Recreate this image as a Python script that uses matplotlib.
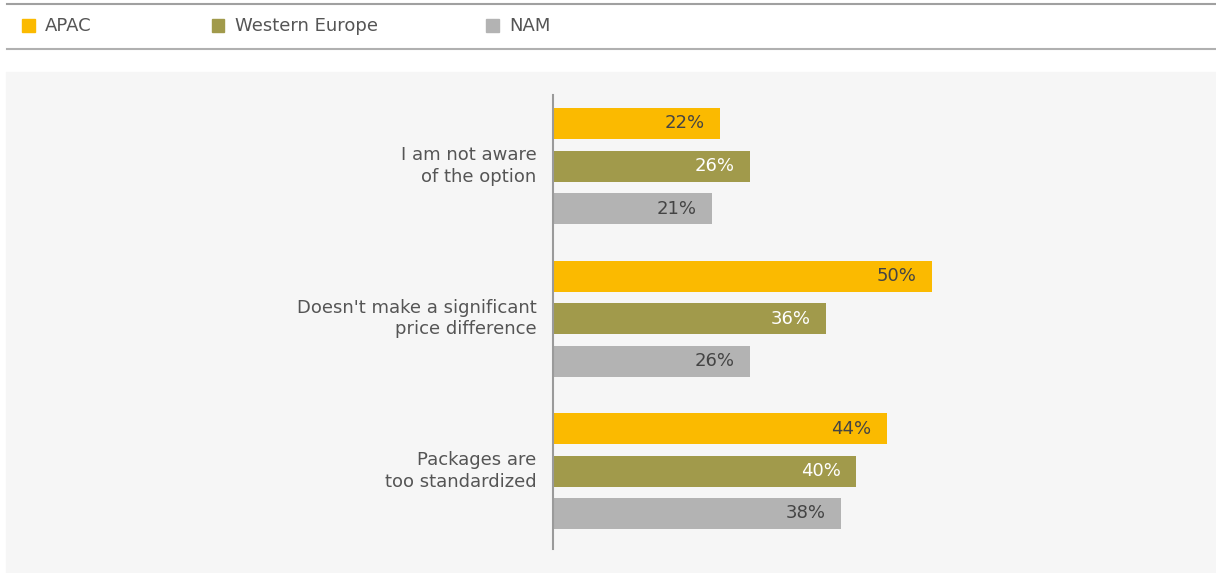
import numpy as np
import matplotlib.pyplot as plt
from matplotlib.patches import Rectangle
from matplotlib.lines import Line2D

# survey data: reasons for not choosing the option, share of respondents (%)
reasons = ["I am not aware\nof the option",
           "Doesn't make a significant\nprice difference",
           "Packages are\ntoo standardized"]
regions = ["APAC", "Western Europe", "NAM"]
apac = [22, 50, 44]
western_europe = [26, 36, 40]
nam = [21, 26, 38]

colors = ["#FBBA00", "#A19A4B", "#B3B3B3"]
label_colors = ["#444444", "#FFFFFF", "#444444"]

W, H = 1216, 573
fig = plt.figure(figsize=(W / 100, H / 100), dpi=100)
plt.rcParams["font.family"] = ["DejaVu Sans"]
FS = 13

# header rules and grey panel
fig.add_artist(Line2D([7 / W, 1], [1 - 4 / H, 1 - 4 / H], color="#A0A0A0", lw=1.5))
fig.add_artist(Line2D([7 / W, 1], [1 - 49 / H, 1 - 49 / H], color="#B0B0B0", lw=1.5))
fig.add_artist(Rectangle((6 / W, 0), 1 - 6 / W, 1 - 72 / H, color="#F6F6F6", zorder=0))

# legend
legend_x = [22, 212, 486]
for x, name, c in zip(legend_x, regions, colors):
    fig.add_artist(Rectangle((x / W, 1 - 32 / H), 12.5 / W, 12.5 / H, color=c))
    fig.text((x + 23) / W, 1 - 26 / H, name, fontsize=FS, color="#555555",
             va="center", ha="left")

# bar axes: left edge at the vertical baseline
ax = fig.add_axes([553 / W, 1 - 549 / H, (1200 - 553) / W, (549 - 95) / H])
ax.patch.set_alpha(0)
ax.set_xlim(0, 647 / 7.58)
ax.set_ylim(2 + 78 / 152.5, -71 / 152.5)

y = np.arange(len(reasons))
offset = 42.5 / 152.5
height = 31 / 152.5
series = [apac, western_europe, nam]
for i, (vals, c, lc) in enumerate(zip(series, colors, label_colors)):
    pos = y + (i - 1) * offset
    ax.barh(pos, vals, height=height, color=c, zorder=2)
    for p, v in zip(pos, vals):
        ax.text(v - 2.0, p, f"{v}%", ha="right", va="center",
                fontsize=FS, color=lc, zorder=3)

for s in ["top", "right", "bottom"]:
    ax.spines[s].set_visible(False)
ax.spines["left"].set_color("#9A9A9A")
ax.spines["left"].set_linewidth(1.5)
ax.set_xticks([])
ax.set_yticks(y)
ax.set_yticklabels(reasons, fontsize=FS, color="#555555", linespacing=1.25)
for lbl in ax.get_yticklabels():
    lbl.set_va("center")
ax.tick_params(axis="y", length=0, pad=12)

fig.savefig("out.png", dpi=100)
